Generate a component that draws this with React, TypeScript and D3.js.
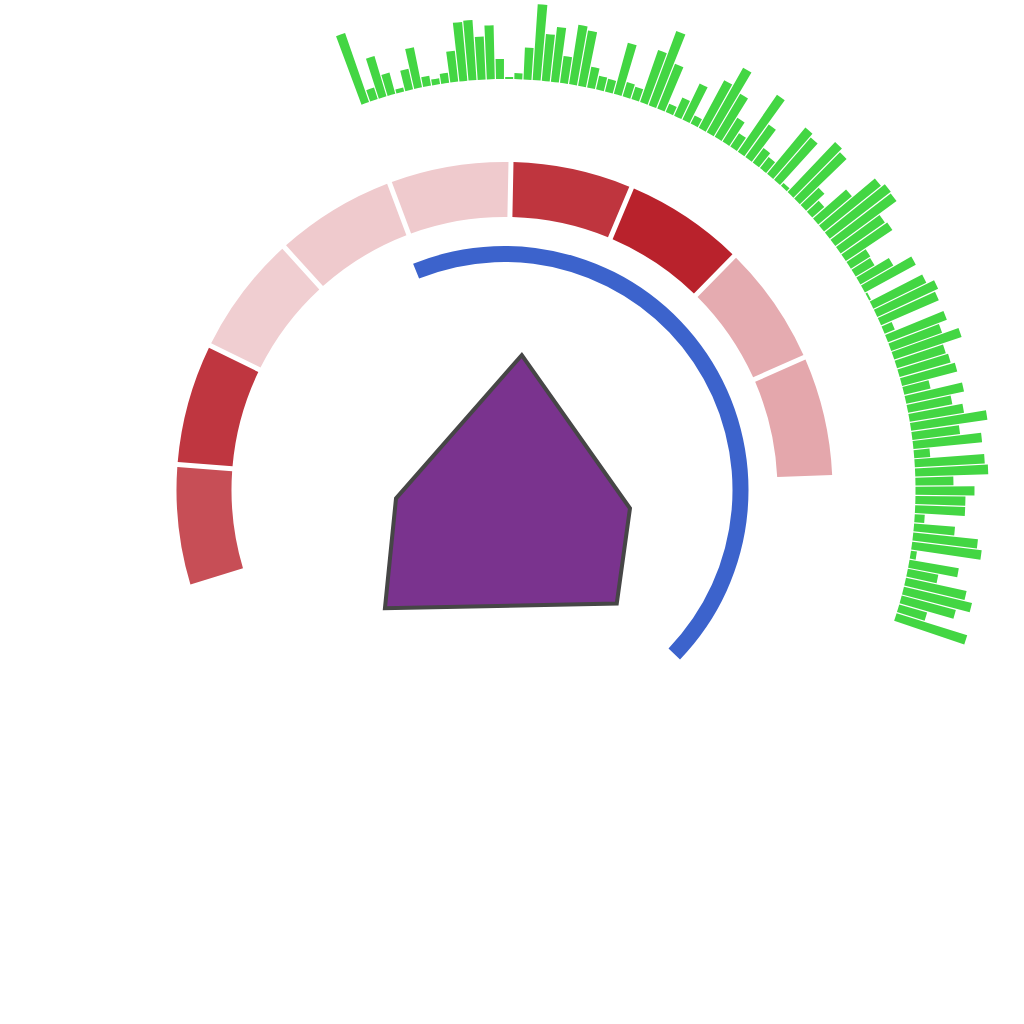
import * as d3 from "d3";

// outer ring of green bars, one value per angular slot
const barValues = [
  73, 12, 42, 22, 4, 21, 41, 10, 6, 10, 31, 59, 60, 43, 54, 20, 2, 6, 32, 76,
  47, 55, 27, 60, 56, 21, 14, 13, 53, 15, 13, 55, 79, 48, 9, 20, 40, 9, 54, 74,
  50, 28, 16, 69, 40, 18, 14, 60, 56, 4, 69, 65, 25, 16, 44, 73, 77, 76, 54, 56,
  23, 22, 38, 58, 2, 59, 67, 63, 11, 63, 54, 71, 51, 53, 57, 27, 59, 45, 55, 77,
  48, 69, 16, 70, 73, 38, 59, 50, 50, 10, 41, 65, 70, 6, 50, 31, 62, 70, 56, 29,
  74,
];

// middle ring of heat segments
const segmentNames = ["A", "B", "C", "D", "E", "F", "G", "H", "I"];
const segmentValues = [0.73, 0.86, 0.03, 0.05, 0.05, 0.87, 0.97, 0.22, 0.24];

// blue progress arc (degrees)
const gaugeRange = [-22, 134];

// pentagon in the middle
const polyAngles = [7.3, 98.3, 135.3, 225.3, 265.6];
const polyValues = [68, 63.4, 79.8, 84.1, 54.4];

const rad = (deg: number) => (deg * Math.PI) / 180;

export default function App() {
  const width = 1024;
  const height = 1024;
  const cx = 504.5;
  const cy = 490;

  const barAngle = d3
    .scaleBand<number>()
    .domain(barValues.map((_, i) => i))
    .range([-20.44, 108.64]);
  const barRadius = d3.scaleLinear().domain([0, 80]).range([411, 491]);

  const segAngle = d3
    .scaleBand<string>()
    .domain(segmentNames)
    .range([-107.2, 87.8]);
  const segColor = d3
    .scaleLinear<string>()
    .domain([0, 1])
    .range(["#f2d3d6", "#b71d27"]);

  const polyRadius = d3.scaleLinear().domain([0, 100]).range([0, 200]);

  const barArc = d3
    .arc<number>()
    .innerRadius(barRadius(0))
    .outerRadius((d) => barRadius(d))
    .padRadius(411)
    .padAngle(1.2 / 411);

  const segArc = d3.arc().padRadius(300).padAngle(5 / 300);

  const gaugeArc = d3.arc()({
    innerRadius: 228,
    outerRadius: 244,
    startAngle: rad(gaugeRange[0]),
    endAngle: rad(gaugeRange[1]),
  });

  const polyLine = d3
    .lineRadial<number>()
    .angle((_, i) => rad(polyAngles[i]))
    .radius((d) => polyRadius(d))
    .curve(d3.curveLinearClosed);

  return (
    <svg
      width={width}
      height={height}
      style={{ position: "absolute", left: 0, top: 0, background: "#fff" }}
    >
      <g transform={`translate(${cx},${cy})`}>
        {barValues.map((v, i) => {
          const a0 = barAngle(i)!;
          const a1 = a0 + barAngle.bandwidth();
          return (
            <path
              key={i}
              d={
                barArc.startAngle(rad(a0)).endAngle(rad(a1))(v) || ""
              }
              fill="#43d643"
            />
          );
        })}

        {segmentNames.map((name, i) => {
          const a0 = segAngle(name)!;
          const a1 = a0 + segAngle.bandwidth();
          return (
            <path
              key={name}
              d={
                segArc({
                  innerRadius: 273,
                  outerRadius: 328,
                  startAngle: rad(a0),
                  endAngle: rad(a1),
                } as any) || ""
              }
              fill={segColor(segmentValues[i])}
            />
          );
        })}

        <path d={gaugeArc || ""} fill="#3c63cc" />

        <path
          d={polyLine(polyValues) || ""}
          fill="#7a338e"
          stroke="#464646"
          strokeWidth={4}
          strokeLinejoin="miter"
        />
      </g>
    </svg>
  );
}
